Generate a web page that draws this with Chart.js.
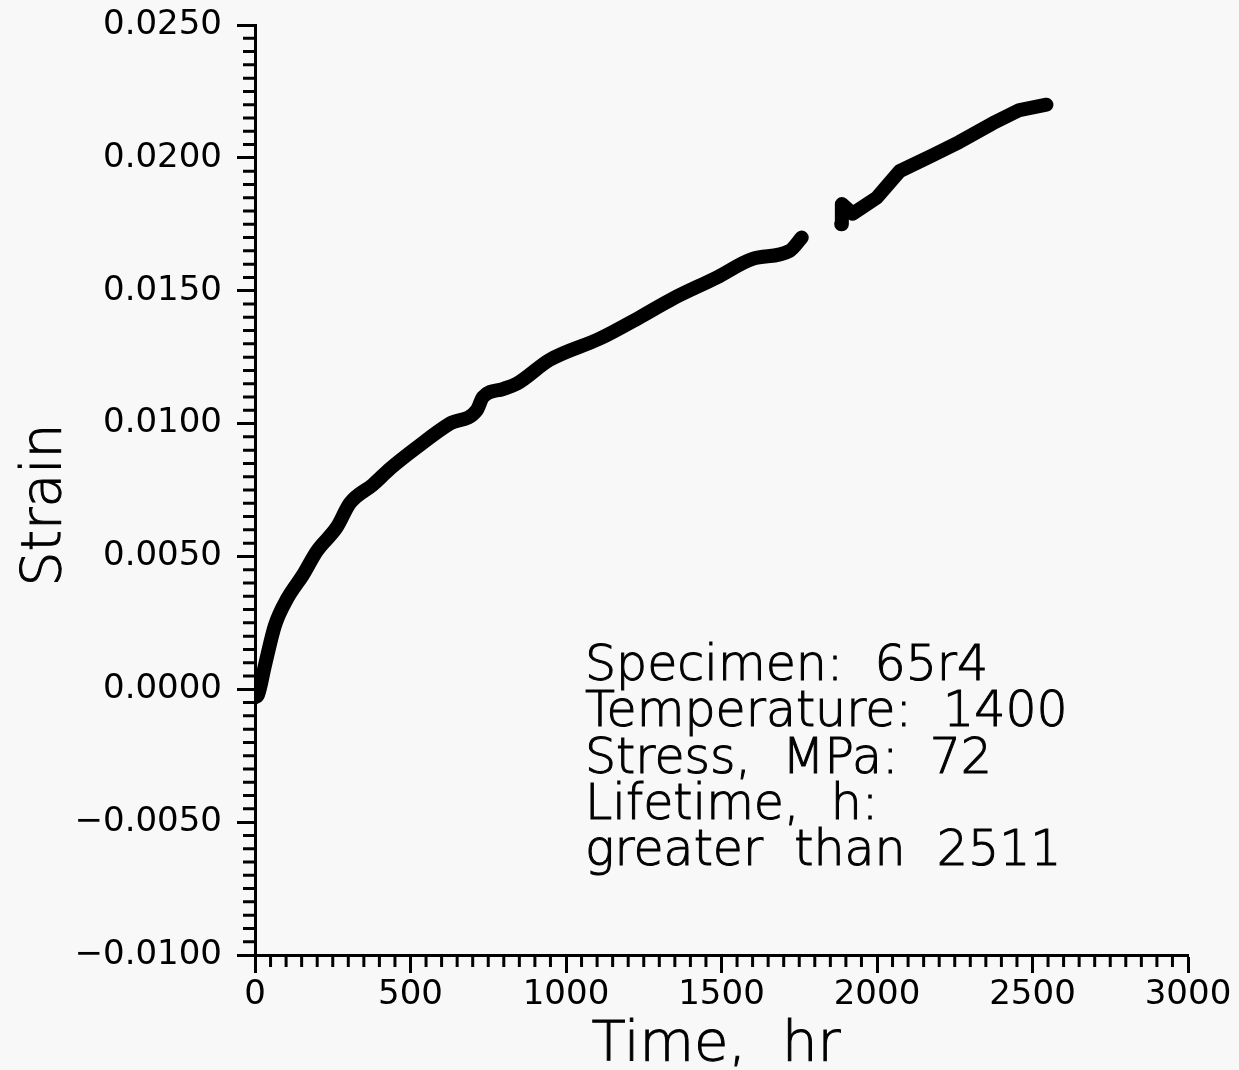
<!DOCTYPE html>
<html>
<head>
<meta charset="utf-8">
<script src="https://cdn.jsdelivr.net/npm/chart.js@4.4.0/dist/chart.umd.min.js"></script>
<style>
  html, body { margin: 0; padding: 0; background: #f8f8f8; }
  #wrap { width: 1239px; height: 1070px; }
</style>
</head>
<body>
<div id="wrap"><canvas id="chart" width="1239" height="1070"></canvas></div>
<script>
// creep curve, two runs with a gap around 1800 h
const timeA = [0, 10, 32, 64, 103, 154, 199, 263, 305, 379, 434, 520, 627, 713, 733, 797, 842, 948, 1109, 1237, 1343, 1485, 1600, 1719, 1758];
const strainA = [-0.0003, -0.0002, 0.0009, 0.0024, 0.0034, 0.0043, 0.0052, 0.0061, 0.0070, 0.0077, 0.0083, 0.0091, 0.0100, 0.0105, 0.0110, 0.0113, 0.0115, 0.0124, 0.0132, 0.0140, 0.0147, 0.0155, 0.0162, 0.0165, 0.0170];
const timeB = [1885, 1887, 1922, 1999, 2073, 2179, 2265, 2372, 2458, 2545];
const strainB = [0.0175, 0.01826, 0.0179, 0.0185, 0.0195, 0.0201, 0.0206, 0.0213, 0.0218, 0.0220];

const xTicks = [0, 500, 1000, 1500, 2000, 2500, 3000];
const yTicks = [-0.0100, -0.0050, 0.0000, 0.0050, 0.0100, 0.0150, 0.0200, 0.0250];
const xTitle = 'Time,  hr';
const yTitle = 'Strain';
const infoLines = ['Specimen:  65r4', 'Temperature:  1400', 'Stress,  MPa:  72', 'Lifetime,  h:', 'greater  than  2511'];

const FONT = '"DejaVu Sans", sans-serif';

function pts(xs, ys) {
    return xs.map((x, i) => ({ x: x, y: ys[i] }));
}

function fmtY(v) {
    if (Math.abs(v) < 1e-9) return '0.0000';
    const s = Math.abs(v).toFixed(4);
    return v < 0 ? '\u2212' + s : s;
}

// thin text with a slight outline to get the plotter pen weight
function penText(ctx, s, x, y) {
    ctx.fillText(s, x, y);
    ctx.strokeText(s, x, y);
}

// minor ticks, axis titles and the text block
const extras = {
    id: 'extras',
    afterDraw(chart) {
        const ctx = chart.ctx;
        const xs = chart.scales.x, ys = chart.scales.y;
        ctx.save();
        ctx.strokeStyle = '#000';
        ctx.lineWidth = 3;
        ctx.beginPath();
        for (let t = 50; t < 3000; t += 50) {
            if (t % 500 === 0) continue;
            const px = xs.getPixelForValue(t);
            ctx.moveTo(px, ys.bottom);
            ctx.lineTo(px, ys.bottom + 12);
        }
        for (let k = -20; k <= 50; k++) {
            if (k % 10 === 0) continue;
            const py = ys.getPixelForValue(k * 0.0005);
            ctx.moveTo(xs.left, py);
            ctx.lineTo(xs.left - 12, py);
        }
        ctx.stroke();

        ctx.fillStyle = '#000';
        ctx.lineWidth = 1;
        ctx.textBaseline = 'alphabetic';

        ctx.font = '200 49px ' + FONT;
        ctx.textAlign = 'left';
        infoLines.forEach((s, i) => penText(ctx, s, 585, 680 + i * 46.3));

        ctx.font = '200 56px ' + FONT;
        ctx.textAlign = 'center';
        penText(ctx, xTitle, 716, 1060);

        ctx.save();
        ctx.translate(60, 505);
        ctx.rotate(-Math.PI / 2);
        ctx.font = '200 55px ' + FONT;
        penText(ctx, yTitle, 0, 0);
        ctx.restore();

        ctx.restore();
    }
};

new Chart(document.getElementById('chart'), {
    type: 'scatter',
    data: {
        datasets: [
            { data: pts(timeA, strainA), showLine: true, borderColor: '#000', borderWidth: 14,
              borderCapStyle: 'round', borderJoinStyle: 'round', pointRadius: 0, cubicInterpolationMode: 'monotone' },
            { data: pts(timeB, strainB), showLine: true, borderColor: '#000', borderWidth: 14,
              borderCapStyle: 'round', borderJoinStyle: 'round', pointRadius: 0, tension: 0 }
        ]
    },
    options: {
        responsive: false,
        animation: false,
        layout: { padding: { top: 25, right: 51, left: 0, bottom: 0 } },
        plugins: { legend: { display: false }, tooltip: { enabled: false } },
        scales: {
            x: {
                type: 'linear', min: 0, max: 3000,
                afterFit(s) { s.height = 115; s.paddingLeft = 0; s.paddingRight = 0; },
                afterBuildTicks(s) { s.ticks = xTicks.map(v => ({ value: v })); },
                ticks: { color: '#000', font: { family: FONT, size: 34 }, padding: 2, maxRotation: 0, callback: v => String(v) },
                grid: { drawOnChartArea: false, color: '#000', tickLength: 18, tickWidth: 3 },
                border: { color: '#000', width: 3 }
            },
            y: {
                type: 'linear', min: -0.01, max: 0.025,
                afterFit(s) { s.width = 255; s.paddingTop = 0; s.paddingBottom = 0; },
                afterBuildTicks(s) { s.ticks = yTicks.map(v => ({ value: v })); },
                ticks: { color: '#000', font: { family: FONT, size: 34 }, padding: 15, callback: v => fmtY(v) },
                grid: { drawOnChartArea: false, color: '#000', tickLength: 18, tickWidth: 3 },
                border: { color: '#000', width: 3 }
            }
        }
    },
    plugins: [extras]
});
</script>
</body>
</html>
